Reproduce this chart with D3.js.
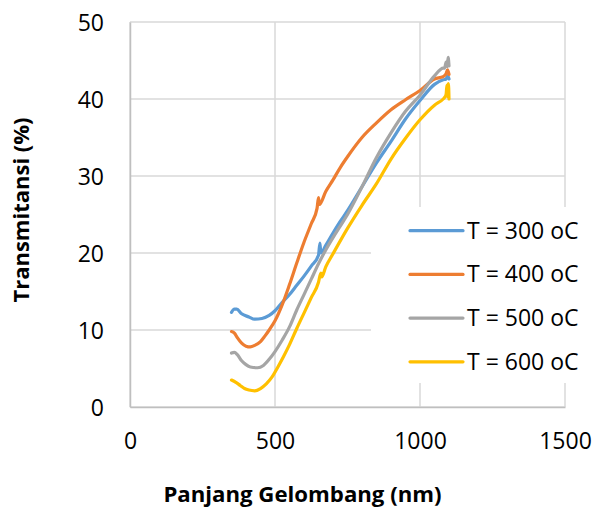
<!DOCTYPE html>
<html>
<head>
<meta charset="utf-8">
<script src="https://cdn.jsdelivr.net/npm/d3@7/dist/d3.min.js"></script>
<style>
  html, body { margin: 0; padding: 0; background: #fff; }
  svg { display: block; }
  text { font-family: "Open Sans", "Noto Sans", sans-serif; fill: #000; }
</style>
</head>
<body>
<svg id="chart" width="592" height="511"></svg>
<script>
// ---- Data ----
const seriesNames = ["T = 300 oC", "T = 400 oC", "T = 500 oC", "T = 600 oC"];

const wl300 = [350, 360, 368, 385, 410, 430, 455, 480, 500, 525, 550, 575, 600, 625, 650, 655, 658, 675, 700, 725, 750, 800, 850, 900, 950, 1000, 1050, 1080, 1090, 1095, 1100];
const t300  = [12.3, 12.7, 12.7, 12.1, 11.7, 11.4, 11.5, 11.9, 12.5, 13.6, 14.6, 15.8, 17.0, 18.3, 19.7, 21.3, 20.0, 21.0, 22.6, 24.1, 25.5, 28.6, 31.7, 34.5, 37.4, 39.8, 41.9, 42.5, 42.6, 43.0, 42.6];

const wl400 = [350, 360, 370, 385, 400, 415, 430, 450, 465, 480, 500, 525, 550, 575, 600, 625, 645, 650, 653, 675, 700, 725, 750, 800, 850, 900, 950, 1000, 1050, 1080, 1090, 1095, 1100];
const t400  = [9.8, 9.6, 9.0, 8.3, 7.9, 7.8, 8.0, 8.5, 9.2, 10.0, 11.2, 13.3, 15.9, 18.7, 21.4, 23.8, 25.8, 27.2, 26.3, 28.0, 29.5, 31.1, 32.5, 35.0, 36.9, 38.6, 39.9, 41.1, 42.6, 42.9, 43.3, 43.8, 43.2];

const wl500 = [350, 360, 370, 385, 400, 415, 440, 460, 480, 500, 525, 550, 575, 600, 625, 650, 675, 700, 725, 750, 800, 850, 900, 950, 1000, 1050, 1080, 1085, 1090, 1094, 1097, 1100];
const t500  = [7.0, 7.1, 6.8, 6.0, 5.5, 5.2, 5.1, 5.4, 6.2, 7.2, 8.7, 10.4, 12.6, 14.6, 16.6, 18.6, 20.4, 22.0, 23.5, 25.0, 28.6, 32.4, 35.6, 38.4, 40.5, 43.0, 44.0, 44.0, 44.8, 44.2, 45.4, 44.3];

const wl600 = [350, 365, 380, 395, 410, 430, 450, 470, 490, 510, 530, 550, 575, 600, 625, 650, 658, 661, 675, 700, 750, 800, 850, 900, 950, 1000, 1050, 1080, 1085, 1090, 1093, 1095, 1098, 1100];
const t600  = [3.5, 3.2, 2.8, 2.4, 2.2, 2.1, 2.4, 3.0, 3.9, 5.2, 6.6, 8.1, 10.2, 12.2, 14.2, 16.2, 17.4, 16.9, 18.2, 19.9, 23.2, 26.2, 29.0, 32.2, 34.9, 37.3, 39.2, 40.0, 40.2, 40.6, 41.8, 40.3, 42.0, 40.0];

const xTicks = [0, 500, 1000, 1500];
const yTicks = [0, 10, 20, 30, 40, 50];
const colors = ["#5B9BD5", "#ED7D31", "#A5A5A5", "#FFC000"];

const xTitle = "Panjang Gelombang (nm)";
const yTitle = "Transmitansi (%)";

// ---- Build series ----
const wls = [wl300, wl400, wl500, wl600];
const ts = [t300, t400, t500, t600];
const series = seriesNames.map((name, i) => ({
  name, color: colors[i],
  points: wls[i].map((w, j) => ({ x: w, y: ts[i][j] }))
}));

// ---- Layout ----
const svg = d3.select("#chart");
const plot = { left: 130, right: 565, top: 22, bottom: 407 };

const x = d3.scaleLinear().domain([0, 1500]).range([plot.left, plot.right]);
const y = d3.scaleLinear().domain([0, 50]).range([plot.bottom, plot.top]);

const gridColor = "#d9d9d9";

// Gridlines
const grid = svg.append("g");
grid.selectAll("line.h").data(yTicks).join("line")
  .attr("x1", plot.left).attr("x2", plot.right)
  .attr("y1", d => y(d)).attr("y2", d => y(d))
  .attr("stroke", gridColor).attr("stroke-width", 1.5);
grid.selectAll("line.v").data(xTicks).join("line")
  .attr("y1", plot.top).attr("y2", plot.bottom)
  .attr("x1", d => x(d)).attr("x2", d => x(d))
  .attr("stroke", gridColor).attr("stroke-width", 1.5);

// Axes (labels only, no tick marks)
const xAxis = d3.axisBottom(x).tickValues(xTicks).tickSize(0).tickPadding(0).tickFormat(d3.format("d"));
const gx = svg.append("g").attr("transform", `translate(0,${plot.bottom})`).call(xAxis);
gx.select(".domain").attr("stroke", "#bfbfbf").attr("stroke-width", 1.5);
gx.selectAll("text").attr("font-size", 23).attr("font-family", "Open Sans")
  .attr("y", 42).attr("dy", 0).attr("fill", "#000");

const yAxis = d3.axisLeft(y).tickValues(yTicks).tickSize(0).tickPadding(0).tickFormat(d3.format("d"));
const gy = svg.append("g").attr("transform", `translate(${plot.left},0)`).call(yAxis);
gy.select(".domain").attr("stroke", "#bfbfbf").attr("stroke-width", 1.5);
gy.selectAll("text").attr("font-size", 23).attr("font-family", "Open Sans")
  .attr("x", -26).attr("dy", "0.35em").attr("fill", "#000");

// Lines
const line = d3.line().x(d => x(d.x)).y(d => y(d.y)).curve(d3.curveMonotoneX);
svg.append("g").selectAll("path").data(series).join("path")
  .attr("d", d => line(d.points))
  .attr("fill", "none")
  .attr("stroke", d => d.color)
  .attr("stroke-width", 3.2)
  .attr("stroke-linejoin", "round")
  .attr("stroke-linecap", "round");

// Legend
const legend = svg.append("g");
legend.append("rect").attr("x", 371).attr("y", 207).attr("width", 221).attr("height", 176).attr("fill", "#fff");
const li = legend.selectAll("g.item").data(series).join("g")
  .attr("transform", (d, i) => `translate(410,${230.7 + i * 43.7})`);
li.append("line").attr("x1", 0).attr("x2", 53).attr("y1", 0).attr("y2", 0)
  .attr("stroke", d => d.color).attr("stroke-width", 3.2).attr("stroke-linecap", "round");
li.append("text").attr("x", 57).attr("dy", "0.35em").attr("font-size", 23)
  .text(d => d.name);

// Axis titles
svg.append("text").attr("x", 302.5).attr("y", 502).attr("text-anchor", "middle")
  .attr("font-size", 22.2).attr("font-weight", "bold").text(xTitle);
svg.append("text").attr("transform", "translate(29,210) rotate(-90)").attr("text-anchor", "middle")
  .attr("font-size", 22).attr("font-weight", "bold").text(yTitle);
</script>
</body>
</html>
